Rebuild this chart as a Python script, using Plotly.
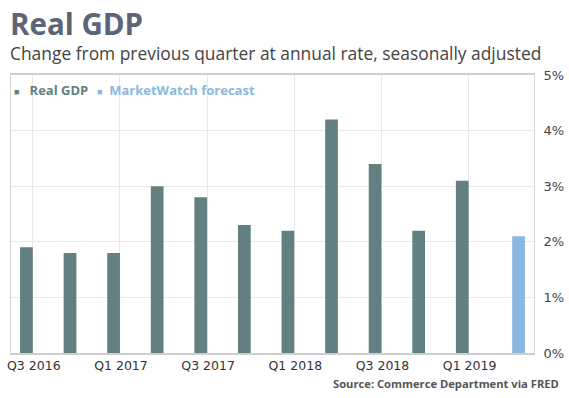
import plotly.graph_objects as go

quarters = ["Q3 2016", "Q4 2016", "Q1 2017", "Q2 2017", "Q3 2017", "Q4 2017",
            "Q1 2018", "Q2 2018", "Q3 2018", "Q4 2018", "Q1 2019", "Q2 2019"]
real_gdp = [1.9, 1.8, 1.8, 3.0, 2.8, 2.3, 2.2, 4.2, 3.4, 2.2, 3.1, None]
forecast = [None, None, None, None, None, None, None, None, None, None, None, 2.1]
tick_labels = quarters[::2]
y_ticks = [0, 1, 2, 3, 4, 5]

GDP_COLOR = "#638080"
FC_COLOR = "#89b8e1"

W, H = 569, 398
ML, MR, MT, MB = 11, 35, 75, 45

fig = go.Figure()
fig.add_trace(go.Bar(x=quarters, y=real_gdp, marker_color=GDP_COLOR,
                     marker_line_width=0, name="Real GDP", showlegend=False))
fig.add_trace(go.Bar(x=quarters, y=forecast, marker_color=FC_COLOR,
                     marker_line_width=0, name="MarketWatch forecast", showlegend=False))


def px_x(px):
    return (px - ML) / (W - ML - MR)


def px_y(py):
    return (H - MB - py) / (H - MT - MB)


fig.update_layout(
    width=W, height=H,
    margin=dict(l=ML, r=MR, t=MT, b=MB, autoexpand=False),
    paper_bgcolor="white", plot_bgcolor="white",
    barmode="group", bargap=0.416, bargroupgap=0,
    font=dict(family="DejaVu Sans", size=12, color="#333"),
    showlegend=False,
    xaxis=dict(
        type="category", categoryorder="array", categoryarray=quarters,
        tickmode="array", tickvals=tick_labels, ticktext=tick_labels,
        showgrid=True, gridcolor="#e8e8e8", gridwidth=1,
        showline=True, linecolor="#cfcfcf", linewidth=1.5, mirror=True,
        ticks="", tickfont=dict(family="DejaVu Sans", size=12.5, color="#333"),
        ticklabelshift=1,
        range=[-0.5, 11.5], fixedrange=True, automargin=False,
    ),
    yaxis=dict(
        side="right", range=[0, 5], tickvals=y_ticks,
        ticktext=["%d%%" % v for v in y_ticks],
        showgrid=True, gridcolor="#e8e8e8", gridwidth=1,
        showline=True, linecolor="#d8d8d8", linewidth=1, mirror=True,
        ticks="", ticklabelstandoff=6, zeroline=False, automargin=False,
        tickfont=dict(family="DejaVu Sans", size=13, color="#444"),
    ),
)

# Title, subtitle, source
fig.add_annotation(text="<b>Real GDP</b>", xref="paper", yref="paper",
                   x=px_x(8), y=px_y(23), xanchor="left", yanchor="middle",
                   showarrow=False, font=dict(family="Open Sans", size=29.5, color="#5b6577"))
fig.add_annotation(text="Change from previous quarter at annual rate, seasonally adjusted",
                   xref="paper", yref="paper", x=px_x(8), y=px_y(53),
                   xanchor="left", yanchor="middle", showarrow=False,
                   font=dict(family="Open Sans", size=17.4, color="#444"))
fig.add_annotation(text="<b>Source: Commerce Department via FRED</b>",
                   xref="paper", yref="paper", x=px_x(561), y=px_y(383),
                   xanchor="right", yanchor="middle", showarrow=False,
                   font=dict(family="Open Sans", size=11.2, color="#555"))

# Legend (drawn as annotations to match small square markers)
fig.add_annotation(text="<span style='font-size:9px'>■</span>   <b>Real GDP</b>",
                   xref="paper", yref="paper", x=px_x(12), y=px_y(90),
                   xanchor="left", yanchor="middle", showarrow=False,
                   font=dict(family="Open Sans", size=13, color=GDP_COLOR))
fig.add_annotation(text="<span style='font-size:9px'>■</span>  <b>MarketWatch forecast</b>",
                   xref="paper", yref="paper", x=px_x(95), y=px_y(90),
                   xanchor="left", yanchor="middle", showarrow=False,
                   font=dict(family="Open Sans", size=13, color=FC_COLOR))

# Remove the browser's default 8px body margin so the figure fills the window.
fig.write_html("out.html", config={"displayModeBar": False},
               post_script="document.body.style.margin='0px';")
